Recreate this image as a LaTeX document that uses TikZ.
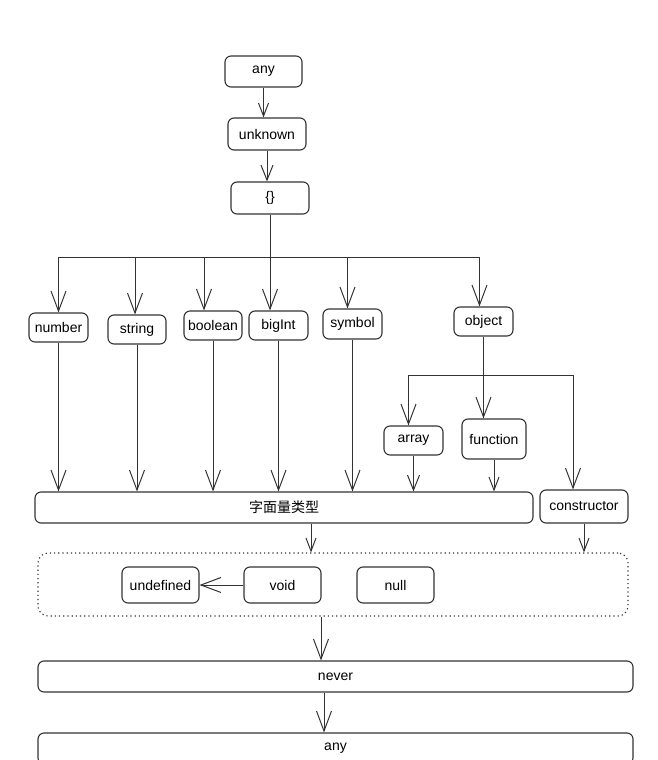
\documentclass[tikz,border=0pt]{standalone}
\usepackage{fontspec}
\setmainfont{Liberation Sans}
\newfontfamily\cjk{Noto Sans CJK SC}
\usetikzlibrary{arrows.meta}
\definecolor{ink}{HTML}{333333}
\begin{document}
\begin{tikzpicture}[x=1pt,y=-1pt,
  every node/.style={font=\fontsize{14}{16}\selectfont,text=black},
  box/.style 2 args={draw=ink,line width=1.1pt,rounded corners=6pt,fill=white,
    inner sep=0pt,minimum width=#1pt,minimum height=#2pt},
  group/.style={draw=ink,line width=1.1pt,dash pattern=on 1.2pt off 3pt,
    rounded corners=10pt,minimum width=590pt,minimum height=63pt},
  wire/.style={draw=ink,line width=1pt},
  big/.style={wire,-{Straight Barb[length=20pt,width=15pt]}},
  mid/.style={wire,-{Straight Barb[length=15pt,width=12pt]}},
  small/.style={wire,-{Straight Barb[length=13pt,width=10pt]}}]
  \useasboundingbox (0,0) rectangle (657,760);

  \node[box={77}{31}] (anytop) at (263.5,71.5) {any};
  \node[box={78}{32}] (unknown) at (267,134) {unknown};
  \node[box={78}{32}] (braces) at (270,198) {\{\}};

  \node[box={59}{29}] (number) at (58.5,327.5) {number};
  \node[box={58}{29}] (string) at (137,329.5) {string};
  \node[box={58}{29}] (boolean) at (213,325.5) {boolean};
  \node[box={59}{29}] (bigInt) at (278.5,325.5) {bigInt};
  \node[box={59}{30}] (symbol) at (352.5,324) {symbol};
  \node[box={59}{29}] (object) at (483.5,321.5) {object};
  \node[box={59}{29}] (array) at (413.5,440.5) {array};
  \node[box={64}{40}] (function) at (494,439) {function};

  \node[box={498}{31}] (lit) at (284,507.5) {\cjk 字面量类型};
  \node[box={88}{33}] (ctor) at (584,506.5) {constructor};

  \node[group] (group) at (333,584.5) {};
  \node[box={77}{36}] (undefined) at (160.5,585) {undefined};
  \node[box={77}{36}] (void) at (282.5,585) {void};
  \node[box={77}{36}] (null) at (395.5,585) {null};

  \node[box={595}{31}] (never) at (335.5,676.5) {never};
  \node[box={595}{31}] (anybot) at (335.5,748.5) {any};

  \coordinate (bus) at (0,257);
  \coordinate (bus2) at (0,375);

  \draw[small] (anytop.south) -- (anytop.south |- unknown.north);
  \draw[mid] (unknown.south) -- (unknown.south |- braces.north);
  \draw[big] (braces.south) -- (braces.south |- bigInt.north);
  \foreach \n/\d in {number/0,string/-2,boolean/-9,symbol/-5,object/-4}{
    \coordinate (\n-d) at ([xshift=\d pt]\n.north);
    \draw[big] (\n-d |- bus) -- (\n-d);
  }
  \draw[wire] (number-d |- bus) -- (object-d |- bus);

  \coordinate (array-d) at ([xshift=-5pt]array.north);
  \coordinate (ctor-d) at ([xshift=-11pt]ctor.north);
  \draw[wire] (array-d |- bus2) -- (ctor-d |- bus2);
  \draw[big] (array-d |- bus2) -- (array-d);
  \draw[big] (ctor-d |- bus2) -- (ctor-d);
  \draw[big] (object.south) -- (object.south |- function.north);

  \foreach \n in {number,string,boolean,bigInt,symbol}
    \draw[big] (\n.south) -- (\n.south |- lit.north);
  \draw[mid] (array.south) -- (array.south |- lit.north);
  \draw[small] (function.south) -- (function.south |- lit.north);

  \coordinate (litout) at ([xshift=27pt]lit.south);
  \draw[small] (litout) -- (litout |- group.north);
  \draw[small] (ctor.south) -- (ctor.south |- group.north);
  \draw[big] (void) -- (undefined);

  \coordinate (groupout) at ([xshift=-12pt]group.south);
  \draw[big] (groupout) -- (groupout |- never.north);
  \coordinate (neverout) at ([xshift=-11.5pt]never.south);
  \draw[big] (neverout) -- (neverout |- anybot.north);
\end{tikzpicture}
\end{document}
